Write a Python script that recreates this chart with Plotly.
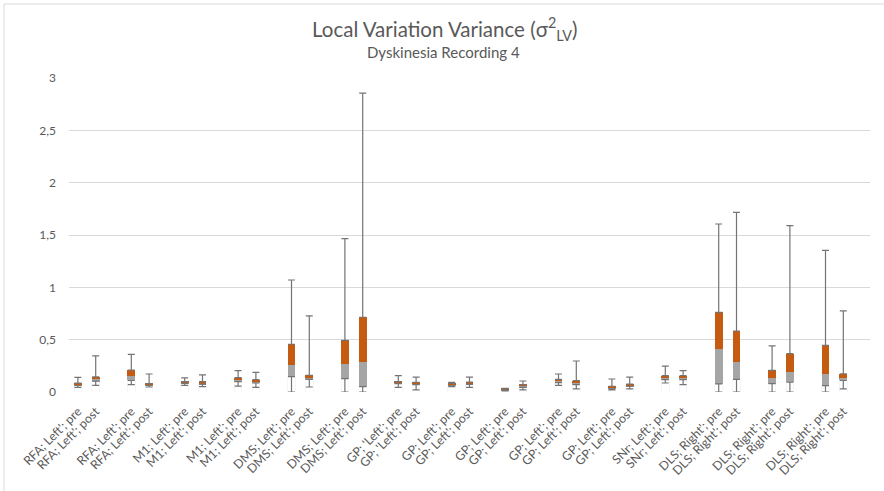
import plotly.graph_objects as go

# ---- data -------------------------------------------------------------
regions = ["RFA; Left'", "RFA; Left'", "M1; Left'", "M1; Left'", "DMS; Left'",
           "DMS; Left'", "GP; 'Left'", "GP; Left'", "GP; Left'", "GP; Left'",
           "GP; Left'", "SNr; Left'", "DLS; Right'", "DLS; Right'", "DLS; Right'"]
conditions = ["pre", "post"]

mins = [0.045, 0.063, 0.070, 0.048, 0.064, 0.051, 0.057, 0.045, 0.0, 0.048,
        0.0, 0.0, 0.045, 0.020, 0.050, 0.045, 0.010, 0.020, 0.064, 0.029,
        0.020, 0.029, 0.086, 0.070, 0.0, 0.0, 0.0, 0.0, 0.0, 0.029]
q1s = [0.062, 0.105, 0.110, 0.062, 0.082, 0.075, 0.100, 0.086, 0.147, 0.120,
       0.128, 0.051, 0.080, 0.070, 0.058, 0.072, 0.018, 0.045, 0.090, 0.070,
       0.030, 0.055, 0.118, 0.118, 0.077, 0.120, 0.080, 0.093, 0.060, 0.110]
medians = [0.070, 0.120, 0.155, 0.070, 0.090, 0.085, 0.113, 0.096, 0.260, 0.137,
           0.270, 0.284, 0.090, 0.080, 0.072, 0.083, 0.025, 0.060, 0.110, 0.085,
           0.045, 0.065, 0.134, 0.134, 0.411, 0.290, 0.134, 0.195, 0.175, 0.137]
q3s = [0.085, 0.145, 0.210, 0.080, 0.100, 0.100, 0.137, 0.118, 0.456, 0.160,
       0.494, 0.714, 0.100, 0.092, 0.082, 0.095, 0.030, 0.070, 0.120, 0.108,
       0.055, 0.075, 0.156, 0.156, 0.761, 0.583, 0.206, 0.366, 0.446, 0.174]
maxs = [0.140, 0.345, 0.360, 0.172, 0.134, 0.163, 0.204, 0.188, 1.070, 0.728,
        1.465, 2.855, 0.156, 0.143, 0.092, 0.143, 0.035, 0.105, 0.172, 0.296,
        0.124, 0.143, 0.248, 0.204, 1.605, 1.716, 0.440, 1.590, 1.354, 0.776]

y_tickvals = [0, 0.5, 1, 1.5, 2, 2.5, 3]
y_ticktext = ["0", "0,5", "1", "1,5", "2", "2,5", "3"]

title_text = "Local Variation Variance (σ<sup>2</sup><sub>LV</sub>)"
subtitle_text = "Dyskinesia Recording 4"

# ---- derived ----------------------------------------------------------
xs, labels = [], []
for g, reg in enumerate(regions):
    for c, cond in enumerate(conditions):
        xs.append(3 * g + c)
        labels.append(f"{reg}; {cond}")

lower_box = [m - q for m, q in zip(medians, q1s)]
upper_box = [q - m for q, m in zip(q3s, medians)]
low_whisk = [q - mn for q, mn in zip(q1s, mins)]
up_whisk = [mx - q for mx, q in zip(maxs, q3s)]

GRAY = "#a5a5a5"
ORANGE = "#c55a11"
WHISK = "#747474"
TXT = "#595959"
FONT = "Lato, 'Open Sans', sans-serif"

fig = go.Figure()
fig.add_bar(x=xs, y=q1s, marker=dict(color="rgba(0,0,0,0)"), showlegend=False,
            hoverinfo="skip")
fig.add_bar(x=xs, y=lower_box, marker=dict(color=GRAY, line=dict(width=0)),
            showlegend=False)
fig.add_bar(x=xs, y=upper_box, marker=dict(color=ORANGE, line=dict(width=0)),
            showlegend=False)
fig.add_scatter(x=xs, y=q1s, mode="markers", marker=dict(size=1, opacity=0),
                error_y=dict(type="data", symmetric=False, array=[0] * len(xs),
                             arrayminus=low_whisk, color=WHISK, thickness=1.2,
                             width=3.5),
                showlegend=False)
fig.add_scatter(x=xs, y=q3s, mode="markers", marker=dict(size=1, opacity=0),
                error_y=dict(type="data", symmetric=False, array=up_whisk,
                             arrayminus=[0] * len(xs), color=WHISK, thickness=1.2,
                             width=3.5),
                showlegend=False)

L, R, T, B = 69, 14, 78, 99
W, H = 884, 491
pw, ph = W - L - R, H - T - B


def py(p):
    return (H - B - p) / ph


def px(p):
    return (p - L) / pw


fig.update_layout(
    width=W, height=H,
    margin=dict(l=L, r=R, t=T, b=B),
    barmode="stack", bargap=0.57,
    plot_bgcolor="white", paper_bgcolor="white",
    font=dict(family=FONT, color=TXT),
    xaxis=dict(range=[-0.5, 44.5], tickmode="array", tickvals=xs,
               ticktext=labels, tickangle=-45, showgrid=False, zeroline=False,
               showline=False, ticks="", ticklabelstandoff=9,
               tickfont=dict(size=12.3, color=TXT)),
    yaxis=dict(range=[0, 3], tickmode="array", tickvals=y_tickvals,
               ticktext=y_ticktext, showgrid=True, gridcolor="#d9d9d9",
               gridwidth=1, zeroline=False, showline=False, ticks="",
               ticklabelstandoff=12, tickfont=dict(size=12, color=TXT)),
    annotations=[
        dict(text=title_text, xref="paper", yref="paper", x=px(445), y=py(29),
             xanchor="center", yanchor="middle", showarrow=False,
             font=dict(size=20.5, color=TXT, family=FONT)),
        dict(text=subtitle_text, xref="paper", yref="paper", x=px(443), y=py(52),
             xanchor="center", yanchor="middle", showarrow=False,
             font=dict(size=15, color=TXT, family=FONT)),
    ],
    shapes=[
        dict(type="line", xref="paper", yref="paper",
             x0=px(4), x1=px(W), y0=py(4), y1=py(4),
             line=dict(color="#d9d9d9", width=1)),
        dict(type="line", xref="paper", yref="paper",
             x0=px(4), x1=px(4), y0=py(4), y1=py(H),
             line=dict(color="#d9d9d9", width=1)),
    ],
)

fig.write_html("out.html")
